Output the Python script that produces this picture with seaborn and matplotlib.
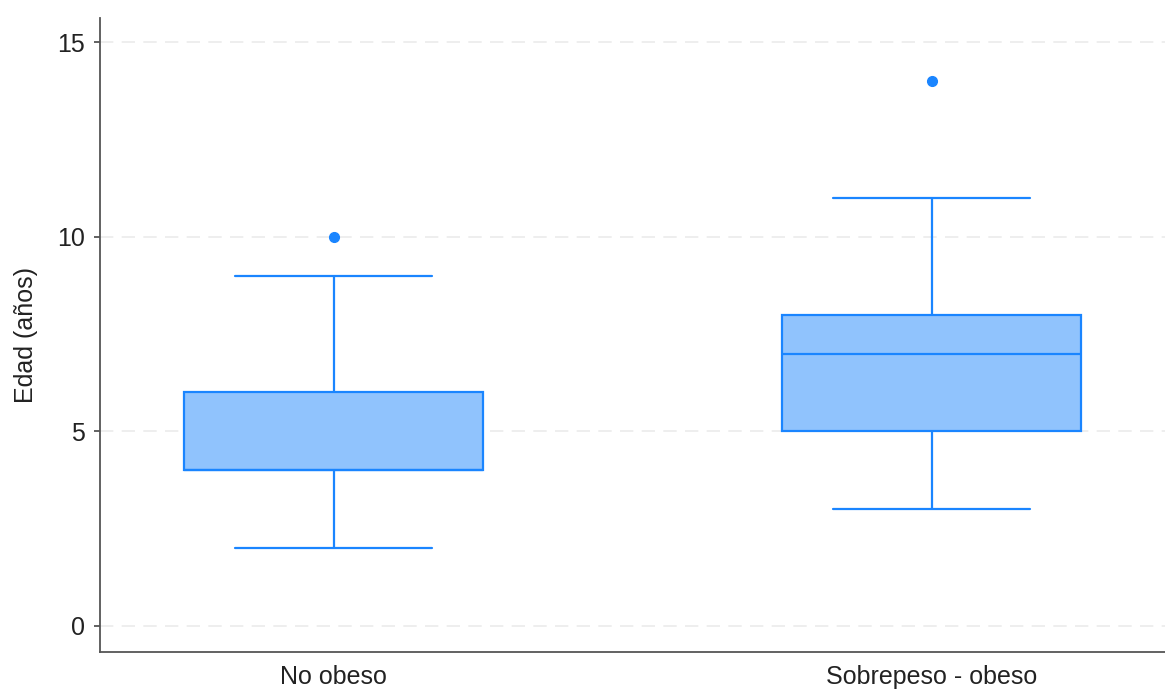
import matplotlib
matplotlib.use("Agg")
import matplotlib.pyplot as plt
import seaborn as sns
import pandas as pd

# Ages (years) per weight group
grupos = ["No obeso", "Sobrepeso - obeso"]
edad_no_obeso = [2, 3, 4, 4, 4, 5, 6, 9, 10]
edad_sobrepeso = [3, 4, 5, 6, 7, 7, 8, 11, 14]
yticks = [0, 5, 10, 15]

df = pd.DataFrame({
    "grupo": [grupos[0]] * len(edad_no_obeso) + [grupos[1]] * len(edad_sobrepeso),
    "edad": edad_no_obeso + edad_sobrepeso,
})

sns.set_style("white")
plt.rcParams["font.family"] = ["Liberation Sans", "DejaVu Sans"]

line_c = "#1A85FF"
fill_c = "#90C3FD"

fig = plt.figure(figsize=(11.65, 6.9), dpi=100)
ax = fig.add_axes([0.0858, 0.0551, 0.9142, 0.9188])

sns.boxplot(
    data=df, x="grupo", y="edad", order=grupos, ax=ax,
    width=0.5, color=fill_c, linecolor=line_c, linewidth=1.6,
    saturation=1, capwidths=0.33,
    flierprops=dict(marker="o", markersize=7, markerfacecolor=line_c,
                    markeredgecolor=line_c),
)

ax.set_xlim(-0.391, 1.39)
ax.set_ylim(-0.668, 15.62)
ax.set_yticks(yticks)
ax.set_yticklabels([str(t) for t in yticks])
ax.yaxis.grid(True, color="#EBEBEB", linestyle=(0, (8, 5)), linewidth=1.2)
ax.set_axisbelow(True)

for side in ["top", "right"]:
    ax.spines[side].set_visible(False)
for side in ["left", "bottom"]:
    ax.spines[side].set_color("#555555")
    ax.spines[side].set_linewidth(1.3)

ax.tick_params(axis="y", left=True, length=4.5, width=1.3, color="#555555",
               labelsize=18, pad=6, labelcolor="#222222")
ax.tick_params(axis="x", bottom=False, labelsize=18, pad=6, labelcolor="#222222")
ax.set_xlabel("")
ax.set_ylabel("Edad (años)", fontsize=18, color="#222222", labelpad=14)

fig.savefig("out.png", dpi=100)
